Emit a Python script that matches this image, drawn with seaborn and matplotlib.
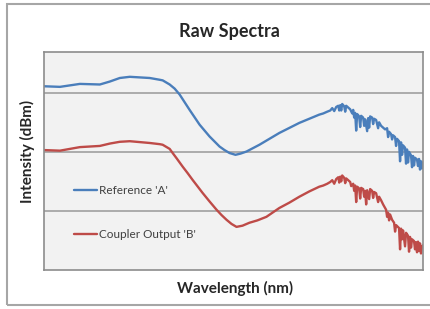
import pandas as pd
import matplotlib
matplotlib.use("Agg")
import matplotlib.pyplot as plt
import seaborn as sns
from matplotlib.patches import Rectangle

# Wavelength (nm) and intensity (dBm)
wl_a = [1300, 1316, 1336, 1356, 1366, 1376, 1386, 1406, 1416, 1419, 1426, 1431, 1436,
        1446, 1456, 1466, 1476, 1481, 1486, 1492, 1497, 1503, 1516, 1536, 1556,
        1576, 1580, 1584, 1587, 1589, 1591, 1593, 1595, 1596, 1597, 1598, 1599, 1601,
        1602, 1603, 1605, 1607, 1609, 1610, 1611, 1612, 1613, 1614, 1616, 1617, 1618,
        1620, 1621, 1622, 1624, 1625, 1626, 1627, 1629, 1630, 1631, 1633, 1635, 1636,
        1638, 1640, 1642, 1644, 1645, 1646, 1648, 1649, 1650, 1652, 1653, 1654, 1656,
        1657, 1658, 1659, 1660, 1662, 1663, 1664, 1665, 1666, 1668, 1669, 1670, 1671,
        1672, 1674, 1675, 1676, 1677, 1678, 1679, 1680]
ref_a = [-38.9, -39.0, -38.5, -38.6, -38.1, -37.5, -37.3, -37.5, -37.8, -37.9, -38.6, -39.3, -40.3,
         -42.9, -45.4, -47.4, -49.1, -49.7, -50.2, -50.5, -50.3, -49.95, -48.8, -46.8, -45.1,
         -43.7, -43.5, -43.2, -43.0, -42.6, -43.1, -42.4, -42.2, -43.0, -42.1, -43.0, -41.9, -42.3,
         -43.2, -42.2, -42.5, -42.8, -43.5, -42.9, -44.2, -43.4, -46.4, -43.6, -44.0, -45.8, -43.9,
         -44.2, -45.6, -44.5, -46.5, -44.3, -45.9, -44.0, -44.2, -45.3, -44.4, -44.6, -46.0, -45.0,
         -45.6, -45.9, -46.2, -46.0, -47.5, -46.6, -47.0, -47.9, -47.2, -47.5, -49.0, -47.8, -48.2,
         -51.6, -48.4, -50.5, -48.9, -49.3, -52.0, -49.6, -51.8, -50.0, -50.6, -52.6, -50.7, -52.3,
         -51.0, -51.3, -52.4, -51.2, -53.0, -51.6, -52.8, -51.8]

wl_b = [1300, 1316, 1336, 1356, 1366, 1376, 1386, 1406, 1416, 1419, 1426, 1429, 1433,
        1439, 1444, 1449, 1459, 1466, 1473, 1478, 1483, 1488, 1493, 1499, 1506, 1514,
        1523, 1536, 1546, 1556, 1566,
        1576, 1580, 1584, 1587, 1589, 1591, 1593, 1595, 1596, 1597, 1598, 1599, 1601,
        1602, 1603, 1605, 1607, 1608, 1610, 1611, 1612, 1613, 1614, 1616, 1617, 1618,
        1620, 1621, 1622, 1623, 1624, 1626, 1627, 1629, 1630, 1631, 1633, 1635, 1636,
        1638, 1640, 1643, 1644, 1645, 1646, 1647, 1649, 1651, 1652, 1653, 1656, 1657,
        1658, 1659, 1660, 1662, 1663, 1665, 1666, 1667, 1668, 1669, 1671, 1672, 1673,
        1674, 1675, 1676, 1677, 1678, 1679, 1680]
out_b = [-49.7, -49.8, -49.2, -49.0, -48.6, -48.3, -48.2, -48.5, -48.7, -48.8, -49.5, -50.2, -51.1,
         -52.5, -53.6, -54.75, -56.95, -58.4, -59.8, -60.7, -61.5, -62.2, -62.7, -62.5, -62.0, -61.6,
         -61.0, -59.5, -58.6, -57.6, -56.7,
         -55.9, -55.7, -55.4, -55.1, -54.8, -55.4, -54.6, -54.3, -55.2, -54.2, -55.0, -54.0, -54.4,
         -55.3, -54.5, -54.8, -55.1, -55.8, -55.4, -56.6, -55.7, -58.5, -55.9, -56.2, -57.9, -56.1,
         -56.3, -57.6, -56.6, -58.9, -56.5, -58.0, -56.3, -56.6, -57.8, -56.8, -57.0, -58.5, -57.6,
         -58.2, -58.9, -59.8, -61.0, -60.3, -61.6, -60.6, -61.5, -62.0, -63.5, -62.4, -62.9, -66.5,
         -63.0, -64.8, -63.3, -66.0, -63.7, -64.2, -66.9, -64.4, -66.2, -64.8, -65.1, -66.5, -65.3,
         -67.0, -65.2, -66.8, -65.5, -67.2, -66.0, -65.8]

series_names = ["Reference 'A'", "Coupler Output 'B'"]

df = pd.concat([
    pd.DataFrame({"wl": wl_a, "dbm": ref_a, "series": series_names[0]}),
    pd.DataFrame({"wl": wl_b, "dbm": out_b, "series": series_names[1]}),
])

sns.set_style("white")
plt.rcParams["font.family"] = ["Lato", "DejaVu Sans"]

fig = plt.figure(figsize=(4.30, 3.09), dpi=100)
ax = fig.add_axes([44 / 430, 39 / 309, 379 / 430, 218 / 309])
ax.set_facecolor("#F2F2F2")

sns.lineplot(data=df, x="wl", y="dbm", hue="series", sort=False, estimator=None,
             palette=["#4A7EBB", "#BE4B48"], linewidth=1.7, ax=ax)

ax.set_xlim(1300, 1680)
ax.set_ylim(-70, -33.1)
ax.set_yticks([-60, -50, -40])
ax.set_xticks([])
ax.tick_params(left=False, labelleft=False)
ax.yaxis.grid(True, color="#A6A6A6", linewidth=1.3)
ax.set_axisbelow(True)
for s in ax.spines.values():
    s.set_color("#8C8C8C")
    s.set_linewidth(1.2)
ax.set_xlabel("")
ax.set_ylabel("")

ax.legend(loc="center left", bbox_to_anchor=(0.08, 0.264), frameon=False,
          fontsize=8.5, labelspacing=2.8, handlelength=1.9, handletextpad=0.2,
          borderpad=0, borderaxespad=0, labelcolor="#404040")

fig.text(229 / 430, 1 - 31 / 309, "Raw Spectra", ha="center", va="center",
         fontsize=13, fontweight="bold", color="#262626")
fig.text(235 / 430, 1 - 288 / 309, "Wavelength (nm)", ha="center", va="center",
         fontsize=11, fontweight="bold", color="#262626")
fig.text(27 / 430, 1 - 151 / 309, "Intensity (dBm)", ha="center", va="center",
         rotation=90, fontsize=11, fontweight="bold", color="#262626")

# outer chart border
fig.patches.append(Rectangle((7 / 430, 4 / 309), 1.2, 301 / 309, transform=fig.transFigure,
                             fill=False, edgecolor="#A6A6A6", linewidth=1.5))

fig.savefig("out.png", dpi=100)
